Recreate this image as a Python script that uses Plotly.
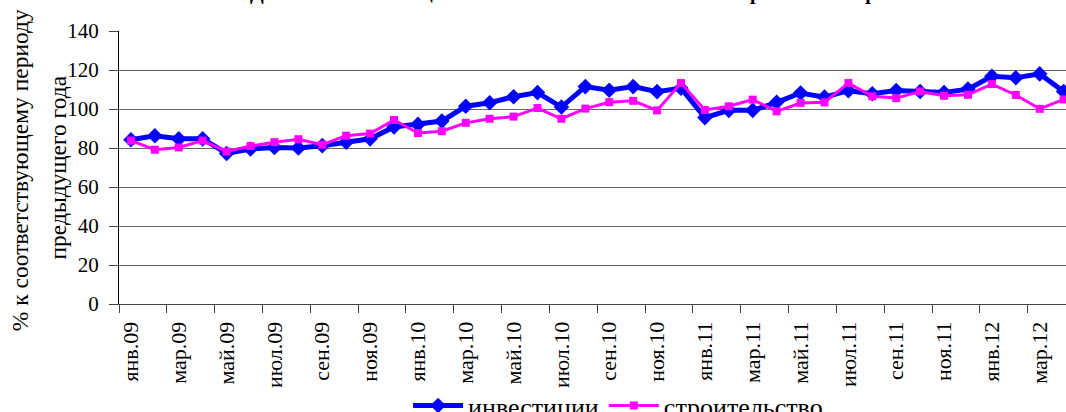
import plotly.graph_objects as go

months = ["янв", "фев", "мар", "апр", "май", "июн", "июл", "авг", "сен", "окт", "ноя", "дек"]
years = ["09", "10", "11", "12"]
categories = [f"{m}.{y}" for y in years for m in months][:40]

investments = [84.2, 86.3, 84.7, 84.7, 77.2, 79.5, 80.3, 80.0, 81.2, 83.0, 84.7, 90.8,
               92.1, 93.8, 101.4, 103.2, 106.3, 108.4, 101.0, 111.5, 109.6, 111.5, 108.9, 110.7,
               95.6, 99.3, 99.3, 103.4, 108.2, 106.1, 109.4, 107.8, 109.5, 109.0, 108.5, 110.2,
               116.8, 116.0, 118.0, 109.0]
construction = [83.8, 79.1, 80.3, 83.8, 78.2, 81.0, 83.0, 84.5, 81.7, 86.3, 87.4, 94.4,
                87.7, 88.6, 92.9, 95.0, 96.1, 100.5, 95.0, 100.2, 103.5, 104.2, 99.3, 113.3,
                99.5, 101.4, 104.8, 98.8, 103.1, 103.4, 113.3, 106.5, 105.6, 109.0, 106.8, 107.3,
                112.8, 107.2, 100.1, 104.9]

y_ticks = [0, 20, 40, 60, 80, 100, 120, 140]
title_text = "Динамика инвестиций в основной капитал и объема строительных работ"
y_title_lines = ["% к соответствующему периоду", "предыдущего года"]

FONT = "Liberation Serif"

fig = go.Figure()
fig.add_trace(go.Scatter(
    x=categories, y=investments, name="инвестиции", mode="lines+markers",
    line=dict(color="#0000FF", width=5),
    marker=dict(symbol="diamond", size=12, color="#0000FF"),
))
fig.add_trace(go.Scatter(
    x=categories, y=construction, name="строительство", mode="lines+markers",
    line=dict(color="#FF00FF", width=3),
    marker=dict(symbol="square", size=8, color="#FF00FF"),
))

fig.update_layout(
    width=1066, height=412,
    margin=dict(l=119, r=0, t=31, b=108, autoexpand=False),
    paper_bgcolor="white", plot_bgcolor="white",
    font=dict(family=FONT, color="black", size=20),
    showlegend=True,
    legend=dict(orientation="h", x=0.527, xanchor="center", yref="paper", y=-0.372,
                yanchor="middle", font=dict(family=FONT, size=26), itemwidth=50,
                bgcolor="rgba(0,0,0,0)"),
)
# title (mostly cropped above the picture, as in the reference)
fig.add_annotation(text=f"<b>{title_text}</b>", xref="paper", yref="paper",
                   x=0.49, y=1.09, xanchor="center", yanchor="bottom", showarrow=False,
                   font=dict(family=FONT, size=20, color="black"))
# two-line y axis title
fig.add_annotation(text=y_title_lines[0], xref="paper", yref="paper",
                   x=(20 - 119) / 947, y=0.49, xanchor="center", yanchor="middle",
                   textangle=-90, showarrow=False, font=dict(family=FONT, size=23.5, color="black"))
fig.add_annotation(text=y_title_lines[1], xref="paper", yref="paper",
                   x=(57 - 119) / 947, y=0.5, xanchor="center", yanchor="middle",
                   textangle=-90, showarrow=False, font=dict(family=FONT, size=23.5, color="black"))

fig.update_xaxes(
    type="category", categoryorder="array", categoryarray=categories,
    range=[-0.5, 39.1], dtick=2, tickson="boundaries",
    ticks="outside", ticklen=8, tickcolor="#444", tickangle=-90, ticklabelstandoff=8,
    showline=True, linecolor="#444", linewidth=1, showgrid=False,
    tickfont=dict(family=FONT, size=22),
)
fig.update_yaxes(
    range=[0, 140], tickvals=y_ticks, ticks="outside", ticklen=9, tickcolor="#444",
    ticklabelstandoff=6,
    showline=True, linecolor="black", linewidth=1,
    showgrid=True, gridcolor="#666", gridwidth=1, zeroline=False,
    tickfont=dict(family=FONT, size=21),
)

fig.write_html("out.html", config={"displayModeBar": False},
               post_script="document.body.style.margin='0';document.body.style.padding='0';")
